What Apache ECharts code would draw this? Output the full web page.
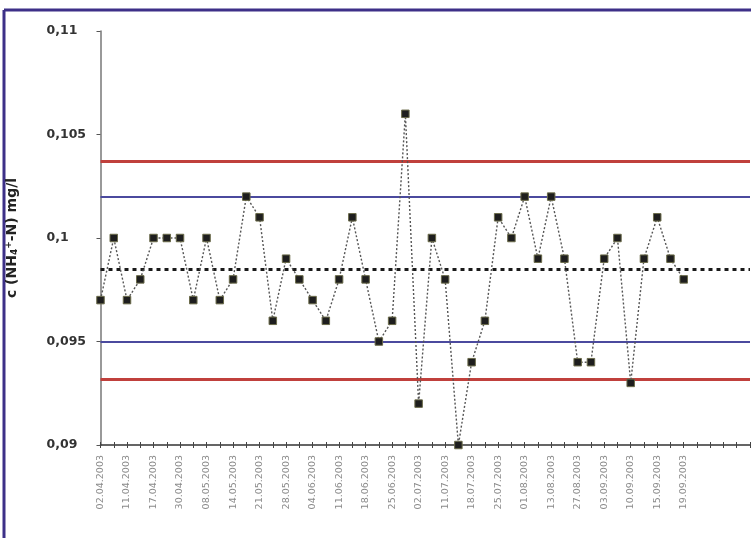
<!DOCTYPE html>
<html>
<head>
<meta charset="utf-8">
<script src="https://cdn.jsdelivr.net/npm/echarts@6/dist/echarts.min.js"></script>
<style>
  html, body { margin: 0; padding: 0; background: #fff; }
  #chart { width: 751px; height: 538px; }
</style>
</head>
<body>
<div id="chart"></div>
<script>
// sample dates (every 2nd one is labelled)
var dates = [
    '02.04.2003', '07.04.2003', '11.04.2003', '14.04.2003', '17.04.2003',
    '24.04.2003', '30.04.2003', '05.05.2003', '08.05.2003', '12.05.2003',
    '14.05.2003', '19.05.2003', '21.05.2003', '26.05.2003', '28.05.2003',
    '02.06.2003', '04.06.2003', '09.06.2003', '11.06.2003', '16.06.2003',
    '18.06.2003', '23.06.2003', '25.06.2003', '30.06.2003', '02.07.2003',
    '07.07.2003', '11.07.2003', '14.07.2003', '18.07.2003', '21.07.2003',
    '25.07.2003', '28.07.2003', '01.08.2003', '06.08.2003', '13.08.2003',
    '20.08.2003', '27.08.2003', '01.09.2003', '03.09.2003', '08.09.2003',
    '10.09.2003', '12.09.2003', '15.09.2003', '17.09.2003', '19.09.2003'
];
// empty slots at the end of the axis
var emptySlots = ['', '', '', '', ''];

// NH4-N concentration, mg/l
var values = [
    0.097, 0.100, 0.097, 0.098, 0.100, 0.100, 0.100, 0.097, 0.100, 0.097,
    0.098, 0.102, 0.101, 0.096, 0.099, 0.098, 0.097, 0.096, 0.098, 0.101,
    0.098, 0.095, 0.096, 0.106, 0.092, 0.100, 0.098, 0.090, 0.094, 0.096,
    0.101, 0.100, 0.102, 0.099, 0.102, 0.099, 0.094, 0.094, 0.099, 0.100,
    0.093, 0.099, 0.101, 0.099, 0.098
];

var centerLine = 0.0985;
var warningLimits = [0.095, 0.102];
var controlLimits = [0.0932, 0.1037];
var yTicks = [0.09, 0.095, 0.1, 0.105, 0.11];

var categories = dates.concat(emptySlots);

var myChart = echarts.init(document.getElementById('chart'));

var option = {
    backgroundColor: '#fff',
    animation: false,
    grid: { left: 100.5, right: 1, top: 31, bottom: 93, outerBoundsMode: 'none' },
    graphic: [
        { type: 'line', shape: { x1: 4, y1: 10, x2: 751, y2: 10 }, style: { stroke: '#3d3088', lineWidth: 3 } },
        { type: 'line', shape: { x1: 4, y1: 10, x2: 4, y2: 538 }, style: { stroke: '#3d3088', lineWidth: 3 } }
    ],
    xAxis: [{
        type: 'category',
        data: categories,
        boundaryGap: false,
        axisLine: { lineStyle: { color: '#333', width: 1.5 } },
        axisTick: { alignWithLabel: true, interval: 0, length: 3, lineStyle: { color: '#444' } },
        axisLabel: {
            interval: 1,
            rotate: 90,
            margin: 10,
            fontSize: 9.5,
            color: '#8a8a8a',
            fontFamily: 'DejaVu Sans'
        },
        splitLine: { show: false }
    }, {
        // second copy just for the inward ticks (gives the "+" look)
        type: 'category',
        data: categories,
        boundaryGap: false,
        position: 'bottom',
        axisLine: { show: false },
        axisTick: { inside: true, interval: 0, length: 3, lineStyle: { color: '#444' } },
        axisLabel: { show: false }
    }],
    yAxis: {
        type: 'value',
        min: yTicks[0],
        max: yTicks[yTicks.length - 1],
        interval: 0.005,
        name: 'c (NH{sub|4}{sup|+}-N) mg/l',
        nameLocation: 'middle',
        nameGap: 81,
        nameRotate: 90,
        nameTextStyle: {
            fontSize: 14,
            fontWeight: 'bold',
            color: '#222',
            fontFamily: 'DejaVu Sans',
            rich: {
                sub: { fontSize: 9, fontWeight: 'bold', color: '#222', verticalAlign: 'bottom', padding: [6, 0, 0, 0] },
                sup: { fontSize: 9, fontWeight: 'bold', color: '#222', verticalAlign: 'top', padding: [0, 0, 6, 0] }
            }
        },
        axisLine: { show: true, lineStyle: { color: '#777', width: 1.5 } },
        axisTick: { show: true, length: 4, lineStyle: { color: '#555' } },
        axisLabel: {
            align: 'left',
            margin: 54,
            fontSize: 12.5,
            fontWeight: 'bold',
            color: '#333',
            fontFamily: 'DejaVu Sans',
            formatter: function (v) {
                return String(+v.toFixed(4)).replace('.', ',');
            }
        },
        splitLine: { show: false }
    },
    series: [{
        type: 'line',
        data: values,
        symbol: 'rect',
        symbolSize: 7.5,
        itemStyle: { color: '#1e1e1e', borderColor: '#6b6b4a', borderWidth: 1 },
        lineStyle: { color: '#555', width: 1.4, type: [2, 2] },
        z: 5,
        markLine: {
            silent: true,
            symbol: 'none',
            precision: 5,
            label: { show: false },
            data: [
                { yAxis: controlLimits[1], lineStyle: { color: '#c0403c', width: 3, type: 'solid' } },
                { yAxis: warningLimits[1], lineStyle: { color: '#4b4a9e', width: 2, type: 'solid' } },
                { yAxis: centerLine, lineStyle: { color: '#1a1a1a', width: 3, type: [4, 4] } },
                { yAxis: warningLimits[0], lineStyle: { color: '#4b4a9e', width: 2, type: 'solid' } },
                { yAxis: controlLimits[0], lineStyle: { color: '#c0403c', width: 3, type: 'solid' } }
            ]
        }
    }]
};

myChart.setOption(option);
</script>
</body>
</html>
